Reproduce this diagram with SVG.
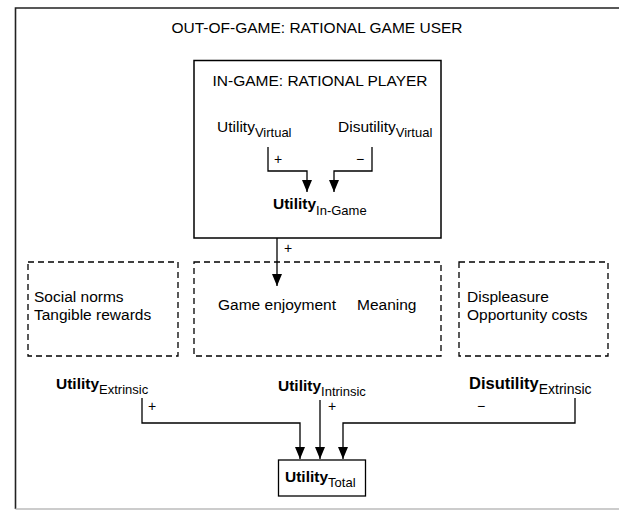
<svg xmlns="http://www.w3.org/2000/svg" width="619" height="510" viewBox="0 0 619 510">
<style>
text{font-family:"Liberation Sans",Arial,sans-serif;fill:#000}
.t{font-size:15.5px}
.b{font-weight:bold}
.s{font-size:13px;font-weight:normal}
.box{fill:#fff;stroke:#000;stroke-width:1.5}
.dash{fill:none;stroke:#000;stroke-width:1.3;stroke-dasharray:6,4}
.c{fill:none;stroke:#000;stroke-width:1.3}
</style>
<defs>
<marker id="ah" markerUnits="userSpaceOnUse" markerWidth="12" markerHeight="10" refX="12" refY="5" orient="auto" viewBox="0 0 12 10">
<path d="M0,0 L12,5 L0,10 Z" fill="#000"/>
</marker>
</defs>
<rect width="619" height="510" fill="#fff"/>
<g id="outer">
<path d="M619,8 H15.5 V509" fill="none" stroke="#222" stroke-width="1.6"/>
<path d="M15.5,509 H619" fill="none" stroke="#bbb" stroke-width="1.5"/>
<text class="t" x="317" y="33" text-anchor="middle">OUT-OF-GAME: RATIONAL GAME USER</text>
</g>
<g id="inner">
<rect class="box" x="194" y="60.5" width="247" height="177.5"/>
<text class="t" x="320" y="86" text-anchor="middle">IN-GAME: RATIONAL PLAYER</text>
</g>
<g id="uvirtual"><text class="t" x="217" y="132">Utility<tspan class="s" dy="5">Virtual</tspan></text></g>
<g id="dvirtual"><text class="t" x="338" y="132">Disutility<tspan class="s" dy="5">Virtual</tspan></text></g>
<g id="uingame"><text class="t b" x="273" y="209">Utility<tspan class="s" dy="6">In-Game</tspan></text></g>
<g id="extrinsic">
<rect class="dash" x="28" y="262" width="150" height="94"/>
<text class="t" x="34" y="302">Social norms</text>
<text class="t" x="34" y="320">Tangible rewards</text>
</g>
<g id="intrinsic">
<rect class="dash" x="194" y="262" width="247" height="94"/>
<text class="t" x="218" y="310">Game enjoyment</text>
<text class="t" x="357" y="310">Meaning</text>
</g>
<g id="disextrinsic">
<rect class="dash" x="459" y="262" width="149" height="94"/>
<text class="t" x="467" y="302">Displeasure</text>
<text class="t" x="467" y="320">Opportunity costs</text>
</g>
<g id="uext"><text class="t b" x="56" y="389">Utility<tspan class="s" dy="5">Extrinsic</tspan></text></g>
<g id="uint"><text class="t b" x="278" y="391">Utility<tspan class="s" dy="5">Intrinsic</tspan></text></g>
<g id="dext"><text class="t b" x="469" y="389" style="font-size:16.5px">Disutility<tspan class="s" dy="5" style="font-size:14px">Extrinsic</tspan></text></g>
<g id="total">
<rect x="278.5" y="460" width="87" height="36" fill="#fff" stroke="#000" stroke-width="1.3"/>
<text class="t b" x="285" y="482">Utility<tspan class="s" dy="5">Total</tspan></text>
</g>
<g id="connectors">
<path class="c" d="M268,147 V171 H307 V192" marker-end="url(#ah)"/>
<path class="c" d="M372,147 V171 H334 V192" marker-end="url(#ah)"/>
<path class="c" d="M277,238 V286" marker-end="url(#ah)"/>
<path class="c" d="M142,398 V423 H300 V459" marker-end="url(#ah)"/>
<path class="c" d="M320,400 V459" marker-end="url(#ah)"/>
<path class="c" d="M575,398 V423 H343 V459" marker-end="url(#ah)"/>
<g font-family="Liberation Sans,Arial,sans-serif" font-size="14">
<text x="274" y="164">+</text>
<text x="356" y="164">−</text>
<text x="284" y="253">+</text>
<text x="148" y="411">+</text>
<text x="328" y="411">+</text>
<text x="477" y="411">−</text>
</g>
</g>
</svg>
